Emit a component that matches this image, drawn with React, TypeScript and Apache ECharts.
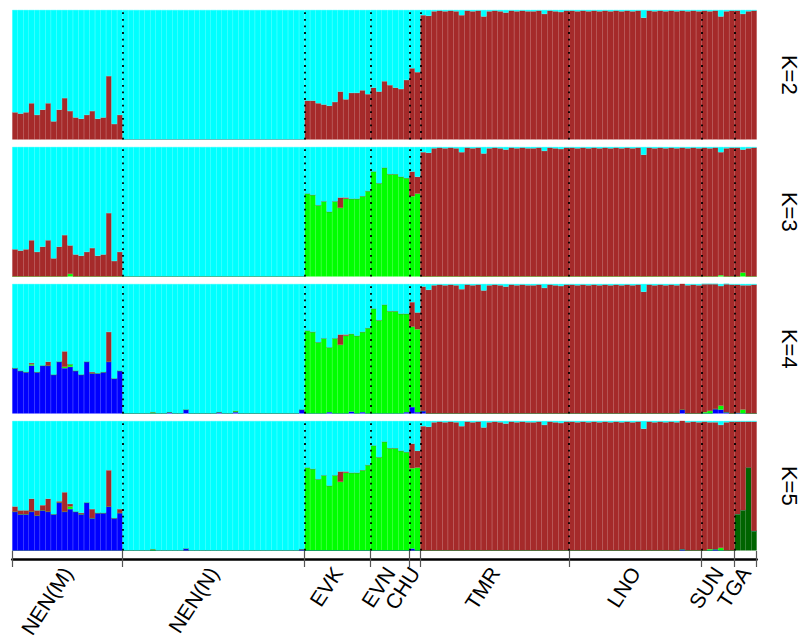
import React, { useEffect, useRef } from "react";
import * as echarts from "echarts";

// ---------------- data ----------------
const POP_NAMES = ["NEN(M)", "NEN(N)", "EVK", "EVN", "CHU", "TMR", "LNO", "SUN", "TGA"];
const POP_SIZES = [20, 33, 12, 7, 2, 27, 24, 6, 4];
const K_LABELS = ["K=2", "K=3", "K=4", "K=5"];

const COL_CYAN = "#00FFFF";
const COL_BROWN = "#A52A2A";
const COL_GREEN = "#00FF00";
const COL_BLUE = "#0000FF";
const COL_DKGREEN = "#006400";

const Z = (n: number) => Array(n).fill(0);

// shared brown (right-hand populations)
const TMR_BROWN = [0.96, 0.955, 0.99, 0.995, 0.99, 0.995, 0.99, 0.96, 0.995, 0.99, 0.995, 0.95, 0.99, 0.995, 0.99, 0.98, 0.995, 0.99, 0.995, 0.99, 0.99, 0.995, 0.97, 0.995, 0.99, 0.985, 0.995];
const LNO_BROWN = [0.995, 0.99, 0.995, 0.99, 0.995, 0.99, 0.995, 0.99, 0.995, 0.99, 0.995, 0.99, 0.995, 0.94, 0.995, 0.99, 0.995, 0.99, 0.995, 0.99, 0.995, 0.99, 0.995, 0.99];
const SUN_BROWN = [0.995, 0.99, 0.995, 0.95, 0.99, 0.995];
const TGA_BROWN = [0.995, 0.97, 0.99, 0.995];

// K=2
const K2_BROWN = [
  0.21, 0.2, 0.21, 0.28, 0.19, 0.23, 0.28, 0.14, 0.23, 0.32, 0.22, 0.17, 0.16, 0.19, 0.22, 0.16, 0.17, 0.49, 0.12, 0.19,
  ...Z(33),
  0.3, 0.3, 0.28, 0.27, 0.26, 0.29, 0.37, 0.31, 0.36, 0.36, 0.38, 0.35,
  0.4, 0.37, 0.45, 0.42, 0.4, 0.39, 0.46,
  0.55, 0.52,
  ...TMR_BROWN, ...LNO_BROWN, ...SUN_BROWN, ...TGA_BROWN,
];

// K=3
const EVK_GREEN = [0.64, 0.63, 0.55, 0.58, 0.5, 0.58, 0.53, 0.6, 0.6, 0.6, 0.62, 0.66];
const EVN_GREEN = [0.81, 0.72, 0.84, 0.79, 0.79, 0.77, 0.76];
const CHU_GREEN = [0.62, 0.64];
const EVK_BROWN = [0, 0, 0, 0, 0, 0, 0.08, 0.01, 0, 0, 0, 0];
const EVN_BROWN = [0, 0, 0, 0, 0, 0, 0];
const CHU_BROWN = [0.19, 0.13];

const K3_GREEN = [
  0, 0, 0, 0, 0, 0, 0, 0, 0, 0, 0.02, 0, 0, 0, 0, 0, 0, 0, 0, 0,
  ...Z(33),
  ...EVK_GREEN, ...EVN_GREEN, ...CHU_GREEN,
  ...Z(27), ...Z(24),
  0, 0, 0, 0.01, 0, 0,
  0, 0.03, 0, 0,
];
const K3_BROWN = [
  0.21, 0.2, 0.21, 0.28, 0.19, 0.23, 0.28, 0.14, 0.23, 0.32, 0.22, 0.17, 0.16, 0.19, 0.22, 0.16, 0.17, 0.49, 0.12, 0.19,
  ...Z(33),
  ...EVK_BROWN, ...EVN_BROWN, ...CHU_BROWN,
  ...TMR_BROWN, ...LNO_BROWN, ...SUN_BROWN,
  0.995, 0.95, 0.99, 0.995,
];

// K=4
const K4_BLUE = [
  0.35, 0.33, 0.32, 0.37, 0.32, 0.37, 0.37, 0.3, 0.4, 0.35, 0.36, 0.33, 0.3, 0.4, 0.31, 0.31, 0.32, 0.4, 0.27, 0.33,
  0, 0, 0, 0, 0, 0, 0, 0, 0.01, 0, 0, 0.03, 0, 0, 0, 0, 0, 0.01, 0, 0, 0.01, 0, 0, 0, 0, 0, 0, 0, 0, 0, 0, 0, 0.03,
  0, 0, 0, 0, 0.01, 0, 0, 0, 0.015, 0, 0.01, 0,
  0, 0, 0, 0, 0, 0, 0.01,
  0.05, 0.01,
  0.02, ...Z(26),
  0, 0, 0, 0, 0, 0, 0, 0, 0, 0, 0, 0, 0, 0, 0, 0, 0, 0, 0, 0, 0.03, 0, 0, 0,
  0, 0, 0.035, 0.03, 0.01, 0,
  0.005, 0, 0, 0,
];
const K4_GREEN = [
  0, 0, 0, 0.01, 0, 0, 0, 0, 0, 0.01, 0.02, 0, 0, 0, 0, 0, 0, 0, 0, 0,
  0, 0, 0, 0, 0, 0.01, 0, 0, 0, 0, 0, 0, 0, 0, 0, 0, 0, 0, 0, 0, 0.01, 0, 0, 0, 0, 0, 0, 0, 0, 0, 0, 0, 0,
  ...EVK_GREEN, ...EVN_GREEN, ...CHU_GREEN,
  ...Z(27), ...Z(24),
  0.01, 0.02, 0, 0.03, 0, 0,
  0, 0.03, 0, 0,
];
const K4_BROWN = [
  0, 0, 0, 0.01, 0, 0, 0.03, 0, 0, 0.12, 0, 0, 0, 0, 0.01, 0, 0, 0.23, 0, 0,
  ...Z(33),
  ...EVK_BROWN, ...EVN_BROWN, ...CHU_BROWN,
  ...TMR_BROWN, ...LNO_BROWN,
  0.99, 0.98, 0.965, 0.925, 0.99, 0.995,
  0.99, 0.96, 0.99, 0.995,
];

// K=5
const K5_DKGREEN = [...Z(131), 0.28, 0.31, 0.64, 0.15];
const K5_BLUE = [
  0.3, 0.28, 0.28, 0.3, 0.27, 0.31, 0.3, 0.28, 0.37, 0.3, 0.32, 0.3, 0.28, 0.37, 0.25, 0.29, 0.29, 0.34, 0.25, 0.29,
  0, 0, 0, 0, 0, 0, 0, 0, 0, 0, 0, 0.015, 0, 0, 0, 0, 0, 0, 0, 0, 0, 0, 0, 0, 0, 0, 0, 0, 0, 0, 0, 0, 0.01,
  ...Z(12), ...Z(7),
  0.015, 0,
  ...Z(27),
  0, 0, 0, 0, 0, 0, 0, 0, 0, 0, 0, 0, 0, 0, 0, 0, 0, 0, 0, 0, 0.01, 0, 0, 0,
  0, 0, 0.01, 0, 0, 0,
  0, 0, 0, 0,
];
const K5_GREEN = [
  0, 0, 0, 0, 0, 0, 0, 0, 0, 0, 0.02, 0, 0, 0, 0, 0, 0, 0, 0, 0,
  0, 0, 0, 0, 0, 0.01, ...Z(27),
  ...EVK_GREEN, ...EVN_GREEN, ...CHU_GREEN,
  ...Z(27), ...Z(24),
  0, 0.01, 0, 0.02, 0, 0,
  0, 0, 0, 0,
];
const K5_BROWN = [
  0.04, 0.03, 0.03, 0.1, 0.04, 0.04, 0.1, 0, 0.01, 0.15, 0.02, 0, 0.01, 0, 0.07, 0, 0, 0.28, 0, 0.03,
  ...Z(33),
  ...EVK_BROWN, ...EVN_BROWN, ...CHU_BROWN,
  ...TMR_BROWN, ...LNO_BROWN,
  0.995, 0.98, 0.98, 0.95, 0.99, 0.995,
  0.715, 0.685, 0.355, 0.845,
];

// ------------- layout -------------
const W = 803;
const H = 641;
const GRID_LEFT = 12.3;
const GRID_RIGHT = 46.3;
const PANEL_TOPS = [10, 147, 284, 421];
const PANEL_H = 129.5;
const FONT = "Liberation Sans, Arial, sans-serif";

type Comp = { name: string; color: string; data: number[] };
const PANELS: { label: string; comps: Comp[] }[] = [
  { label: K_LABELS[0], comps: [{ name: "brown", color: COL_BROWN, data: K2_BROWN }] },
  {
    label: K_LABELS[1],
    comps: [
      { name: "green", color: COL_GREEN, data: K3_GREEN },
      { name: "brown", color: COL_BROWN, data: K3_BROWN },
    ],
  },
  {
    label: K_LABELS[2],
    comps: [
      { name: "blue", color: COL_BLUE, data: K4_BLUE },
      { name: "green", color: COL_GREEN, data: K4_GREEN },
      { name: "brown", color: COL_BROWN, data: K4_BROWN },
    ],
  },
  {
    label: K_LABELS[3],
    comps: [
      { name: "dkgreen", color: COL_DKGREEN, data: K5_DKGREEN },
      { name: "blue", color: COL_BLUE, data: K5_BLUE },
      { name: "green", color: COL_GREEN, data: K5_GREEN },
      { name: "brown", color: COL_BROWN, data: K5_BROWN },
    ],
  },
];

function buildOption() {
  const nInd = POP_SIZES.reduce((a, b) => a + b, 0);
  const cats = Array.from({ length: nInd }, (_, i) => String(i + 1));
  const bounds: number[] = [0];
  POP_SIZES.forEach((s) => bounds.push(bounds[bounds.length - 1] + s));
  const inner = bounds.slice(1, -1);
  const centers = POP_SIZES.map((_, i) => (bounds[i] + bounds[i + 1]) / 2);

  const grid: any[] = [];
  const xAxis: any[] = [];
  const yAxis: any[] = [];
  const series: any[] = [];

  PANELS.forEach((p, g) => {
    grid.push({ left: GRID_LEFT, right: GRID_RIGHT, top: PANEL_TOPS[g], height: PANEL_H, outerBoundsMode: "none" });
    yAxis.push({
      gridIndex: g,
      type: "value",
      min: 0,
      max: 1,
      position: "right",
      axisLine: { show: false },
      axisTick: { show: false },
      axisLabel: { show: false },
      splitLine: { show: false },
      name: p.label,
      nameLocation: "middle",
      nameRotate: -90,
      nameGap: 22,
      nameTextStyle: { fontSize: 22, color: "#000", fontFamily: FONT },
    });
  });
  PANELS.forEach((_, g) => {
    xAxis.push({ gridIndex: g, type: "category", data: cats, boundaryGap: true, show: false });
  });
  PANELS.forEach((_, g) => {
    xAxis.push({ gridIndex: g, type: "value", min: 0, max: nInd, show: false });
  });

  PANELS.forEach((p, g) => {
    const sums = cats.map((_, i) => p.comps.reduce((a, c) => a + (c.data[i] || 0), 0));
    const cyan = sums.map((s) => Math.max(0, 1 - s));
    const comps = [...p.comps, { name: "cyan", color: COL_CYAN, data: cyan }];
    comps.forEach((c) => {
      series.push({
        type: "bar",
        name: c.name,
        xAxisIndex: g,
        yAxisIndex: g,
        stack: "p" + g,
        barCategoryGap: "0%",
        data: c.data,
        itemStyle: { color: c.color, borderColor: c.color, borderWidth: 0.35 },
        emphasis: { disabled: true },
        silent: true,
      });
    });
    series.push({
      type: "line",
      xAxisIndex: 4 + g,
      yAxisIndex: g,
      data: [],
      silent: true,
      markLine: {
        silent: true,
        symbol: ["none", "none"],
        label: { show: false },
        lineStyle: { color: "#000", type: [1.8, 4.8], width: 1.8 },
        data: inner.map((b) => ({ xAxis: b })),
      },
    });
  });

  grid.push({ left: GRID_LEFT, right: GRID_RIGHT, top: 551, height: 8, outerBoundsMode: "none" });
  yAxis.push({ gridIndex: 4, type: "value", min: 0, max: 1, show: false });
  xAxis.push({
    gridIndex: 4,
    type: "value",
    min: 0,
    max: nInd,
    position: "bottom",
    axisLine: { show: true, lineStyle: { color: "#000", width: 2.5 } },
    axisTick: { show: true, customValues: bounds, length: 8, lineStyle: { color: "#555", width: 1.2 } },
    axisLabel: {
      show: true,
      customValues: centers,
      rotate: 57,
      margin: 10,
      fontSize: 21,
      color: "#000",
      fontFamily: FONT,
      formatter: (v: number) => {
        let best = 0;
        centers.forEach((c, i) => {
          if (Math.abs(c - v) < Math.abs(centers[best] - v)) best = i;
        });
        return POP_NAMES[best];
      },
    },
    splitLine: { show: false },
  });
  xAxis.push({
    gridIndex: 4,
    type: "value",
    min: 0,
    max: nInd,
    position: "top",
    axisLine: { show: false },
    axisTick: { show: true, inside: true, customValues: bounds, length: 8, lineStyle: { color: "#555", width: 1.2 } },
    axisLabel: { show: false },
    splitLine: { show: false },
  });

  return {
    animation: false,
    backgroundColor: "#fff",
    grid,
    xAxis,
    yAxis,
    series,
  };
}

export default function App() {
  const ref = useRef<HTMLDivElement>(null);
  useEffect(() => {
    if (!ref.current) return;
    const chart = echarts.init(ref.current, undefined, { renderer: "svg" });
    chart.setOption(buildOption() as any);
    return () => chart.dispose();
  }, []);
  return <div ref={ref} style={{ position: "absolute", left: 0, top: 0, width: W, height: H }} />;
}
